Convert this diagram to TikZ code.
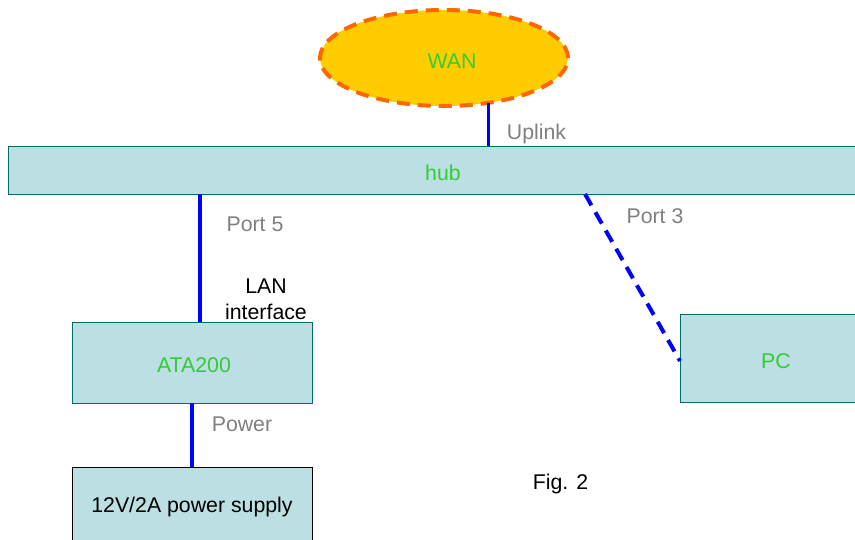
\documentclass[tikz,border=0pt]{standalone}
\usepackage{fontspec}
\setmainfont{Liberation Sans}
\usetikzlibrary{shapes.geometric}
\definecolor{boxfill}{HTML}{BBDFE2}
\definecolor{boxline}{HTML}{006F6B}
\definecolor{wanfill}{HTML}{FFCC00}
\definecolor{wanline}{HTML}{FF6600}
\definecolor{textgreen}{HTML}{33CC33}
\definecolor{textgray}{HTML}{808080}
\newcommand{\nudge}[1]{\raisebox{-3pt}[\height][\depth]{#1}}
\tikzset{
  x=1pt,y=-1pt,
  every node/.style={font=\fontsize{21.3}{26}\selectfont,inner sep=0pt,outer sep=0pt},
  netbox/.style={draw=boxline,fill=boxfill,line width=0.9pt,rectangle,text=textgreen},
  link/.style={draw=blue,line width=3.4pt},
  linkdash/.style={draw=blue,line width=4pt,dash pattern=on 13pt off 8pt},
  lbl/.style={text=textgray},
  plain/.style={text=black,align=center}
}
\begin{document}
\begin{tikzpicture}
\useasboundingbox (0,0) rectangle (855,539);
\clip (0,0) rectangle (855,539);
\node[ellipse,draw=wanline,fill=wanfill,line width=4pt,dash pattern=on 13pt off 8pt,text=textgreen,minimum width=248pt,minimum height=96pt] (wan) at (444,58) {};
\node[text=textgreen] (wantext) at (452,61) {WAN};
\node[netbox,minimum width=870pt,minimum height=48pt] (hub) at (443,170) {\nudge{hub}};
\node[netbox,minimum width=240pt,minimum height=81pt] (ata) at (192,362.5) {\hspace*{4pt}\nudge{ATA200}};
\node[netbox,draw=black,text=black,minimum width=240pt,minimum height=76pt] (psu) at (192,505) {\raisebox{-2pt}[\height][\depth]{12V/2A power supply}};
\node[netbox,minimum width=192pt,minimum height=88pt] (pc) at (776,358) {\nudge{PC}};
\node[lbl] (uplink) at (536.5,133.5) {Uplink};
\node[lbl] (port5) at (255,224) {Port 5};
\node[lbl] (port3) at (655,216) {Port 3};
\node[lbl] (power) at (242,424) {Power};
\node[plain] (lan) at (266,299) {LAN\\interface};
\node[plain] (fig) at (560.5,484) {Fig. 2};
\draw[link] (wan.-45.6) -- (wan.-45.6 |- hub.north);
\draw[link] ([xshift=8pt]ata.north) -- ([xshift=8pt]ata.north |- hub.south);
\draw[link] (ata.south) -- (psu.north);
\draw[linkdash] ([xshift=142pt]hub.south) -- ([yshift=-3pt]pc.west);
\end{tikzpicture}
\end{document}
